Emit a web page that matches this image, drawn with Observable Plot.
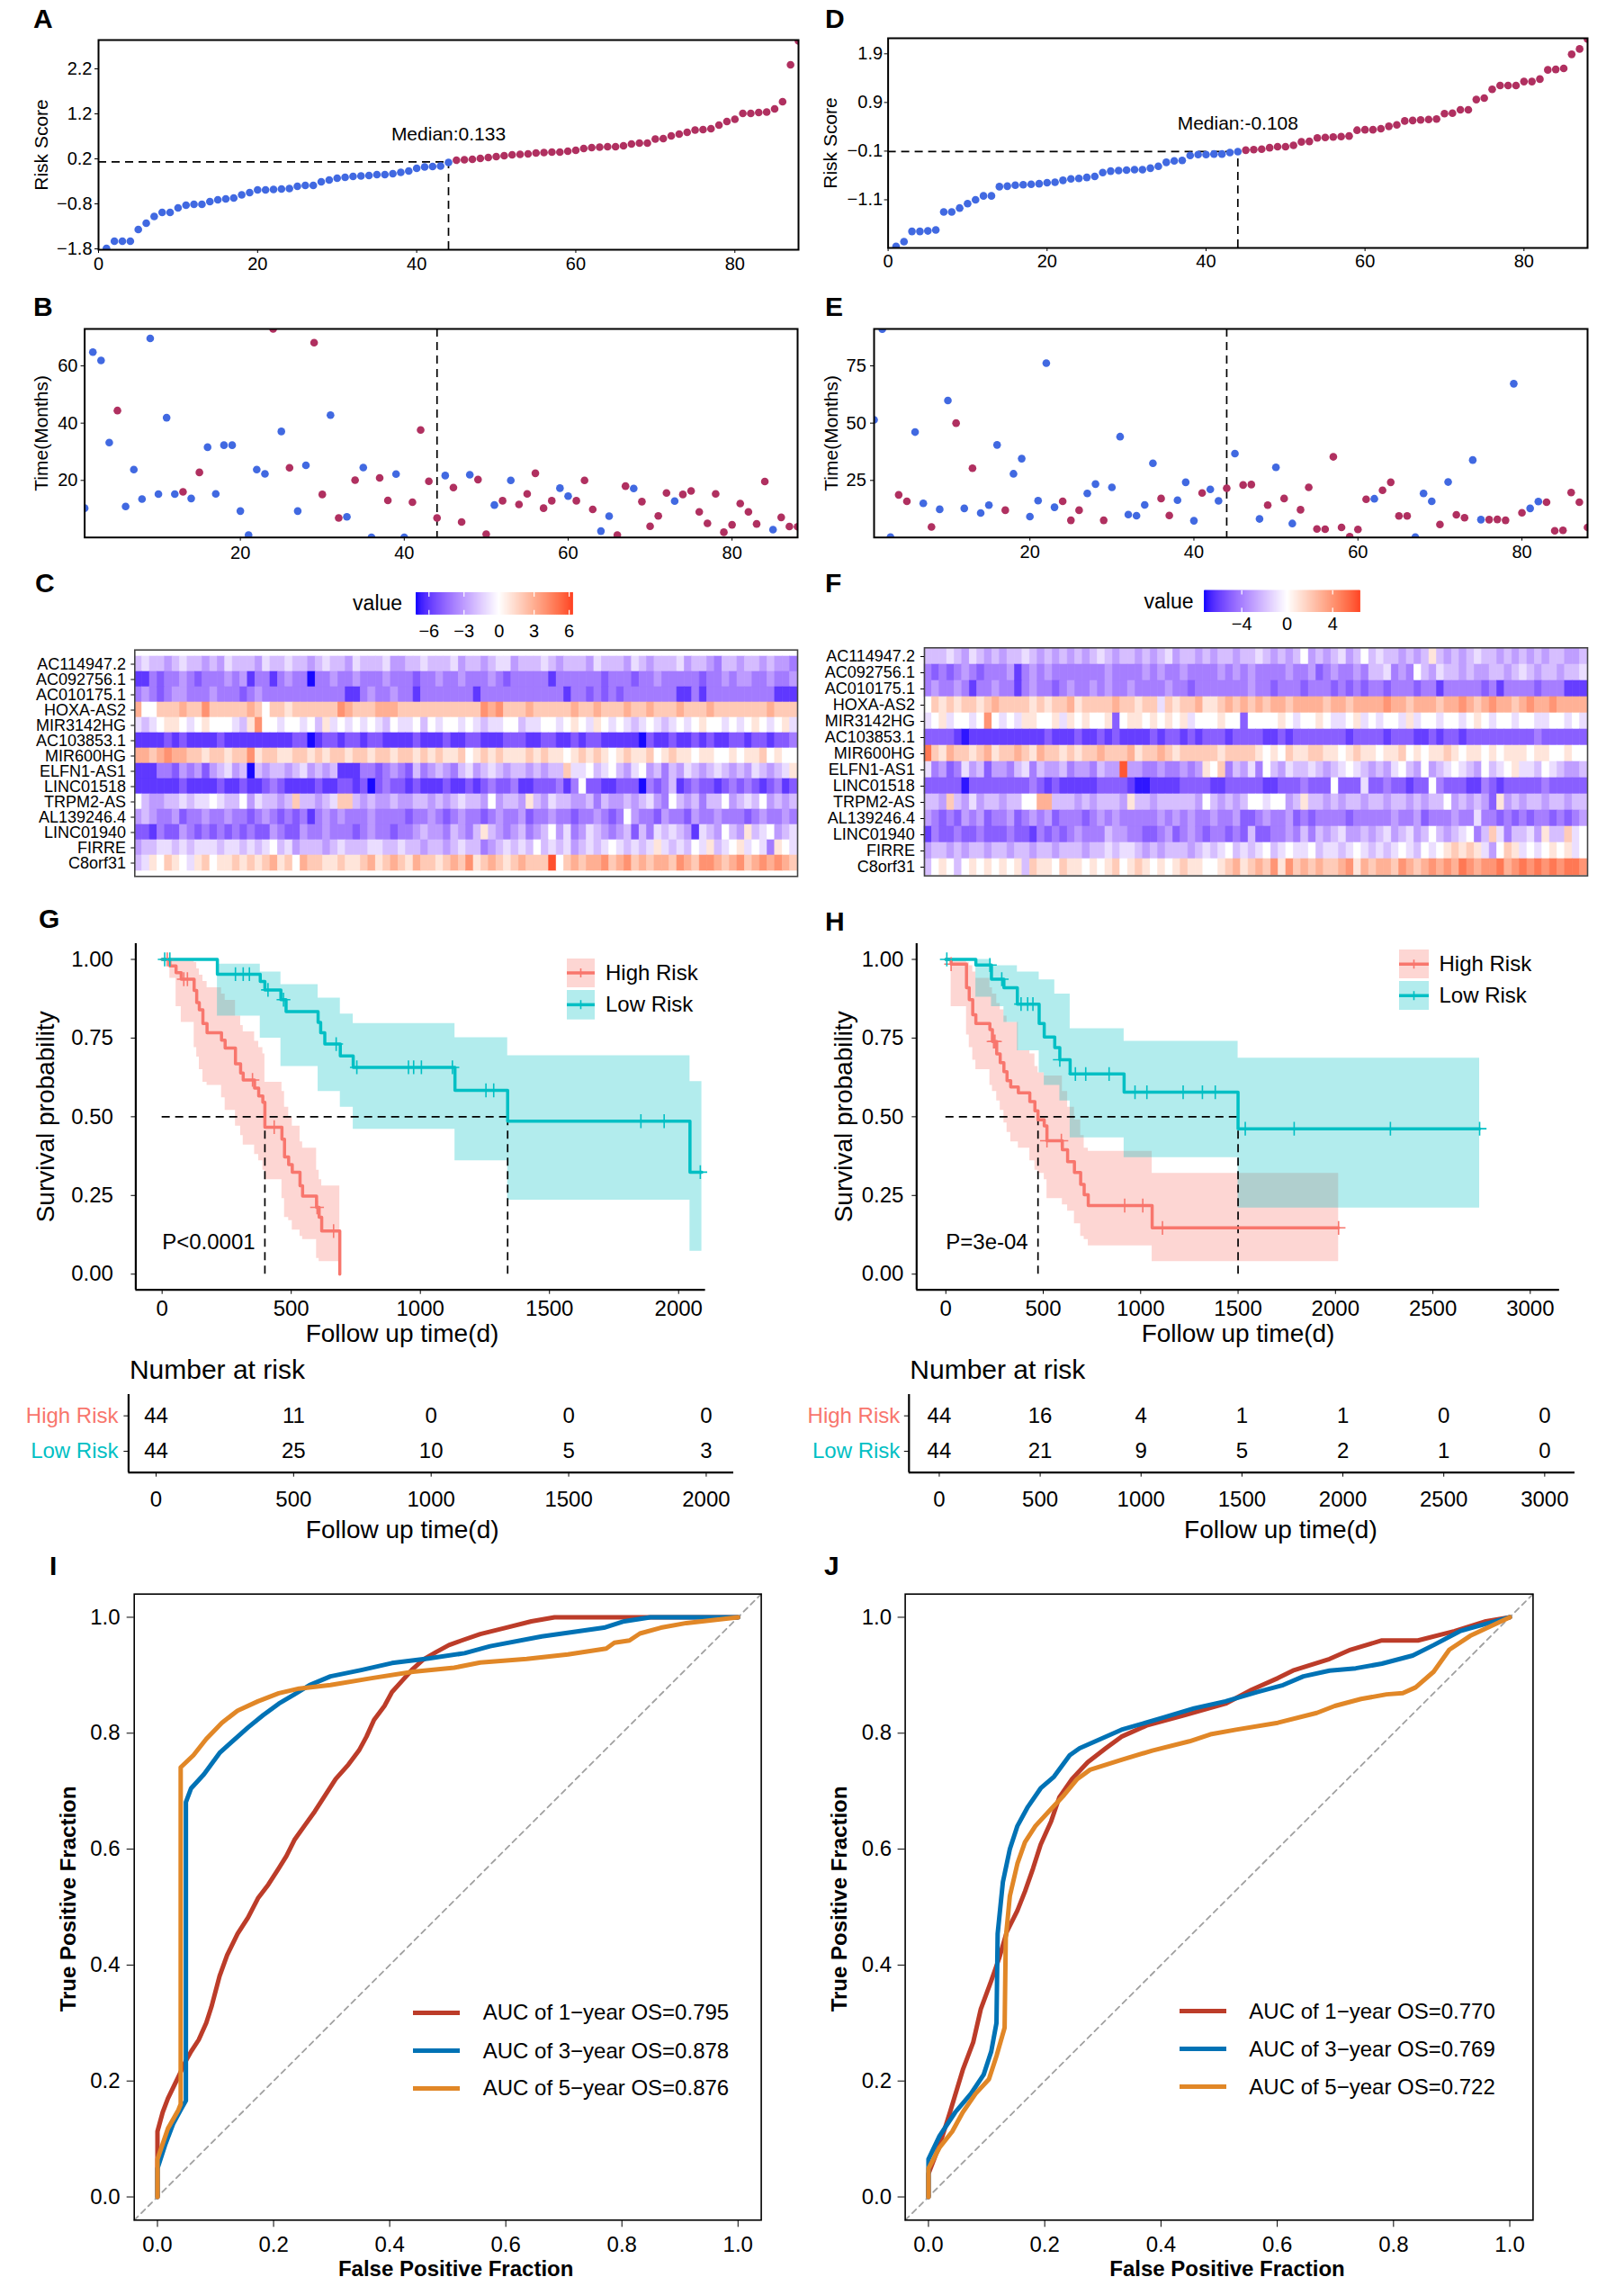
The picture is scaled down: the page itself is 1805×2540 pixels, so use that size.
<!DOCTYPE html>
<html><head><meta charset="utf-8">
<script src="https://cdn.jsdelivr.net/npm/d3@7"></script>
<script src="https://cdn.jsdelivr.net/npm/@observablehq/plot@0.6"></script>
<style>
body{margin:0;background:#fff;}
#page{position:relative;width:1805px;height:2540px;background:#fff;font-family:"Liberation Sans",Arial,Helvetica,sans-serif;overflow:hidden;color:#000;}
.letter{position:absolute;font-weight:bold;font-size:30px;line-height:30px;}
.lt{position:absolute;font-size:24px;line-height:24px;white-space:nowrap;}
</style></head><body><div id="page"></div>
<script>
// ---------------- DATA ----------------
// Panel A / D : sorted risk scores (88 patients each)
const riskA = [-1.79,-1.63,-1.63,-1.63,-1.37,-1.23,-1.08,-0.99,-0.99,-0.89,
 -0.83,-0.81,-0.81,-0.75,-0.71,-0.69,-0.67,-0.60,-0.55,-0.49,
 -0.49,-0.48,-0.47,-0.46,-0.41,-0.39,-0.39,-0.31,-0.27,-0.23,
 -0.21,-0.19,-0.18,-0.17,-0.15,-0.15,-0.13,-0.10,-0.07,-0.01,
 0.02,0.03,0.04,0.12,0.17,0.18,0.19,0.21,0.23,0.25,
 0.27,0.29,0.30,0.31,0.33,0.34,0.35,0.35,0.37,0.39,
 0.43,0.45,0.46,0.47,0.47,0.49,0.53,0.55,0.55,0.64,
 0.65,0.71,0.75,0.79,0.84,0.85,0.87,0.95,1.03,1.08,
 1.21,1.21,1.23,1.24,1.31,1.47,2.29,2.82];
const medianA = "0.133", medianValA = 0.133;
const riskTicksA = [-1.8,-0.8,0.2,1.2,2.2];
const riskD = [-2.06,-1.96,-1.75,-1.75,-1.74,-1.72,-1.35,-1.35,-1.27,-1.18,
 -1.10,-1.02,-1.02,-0.83,-0.82,-0.80,-0.79,-0.78,-0.77,-0.75,
 -0.74,-0.70,-0.67,-0.66,-0.64,-0.62,-0.54,-0.51,-0.50,-0.49,
 -0.48,-0.48,-0.45,-0.41,-0.33,-0.30,-0.29,-0.19,-0.17,-0.17,
 -0.16,-0.16,-0.13,-0.11,-0.08,-0.07,-0.06,-0.03,-0.01,-0.01,
 0.02,0.09,0.10,0.17,0.18,0.19,0.20,0.21,0.33,0.34,
 0.34,0.36,0.41,0.44,0.52,0.53,0.54,0.55,0.56,0.67,
 0.68,0.75,0.75,0.96,0.99,1.17,1.25,1.25,1.25,1.33,
 1.33,1.38,1.57,1.58,1.60,1.89,2.00,2.20];
const medianD = "-0.108", medianValD = -0.108;
const riskTicksD = [-1.1,-0.1,0.9,1.9];

// Panel B / E : survival time (months) and status (1 = dead, 0 = alive)
const timeB = [10.3,64.8,61.9,33.2,44.4,10.9,23.8,13.5,69.6,15.2,
 41.9,15.2,16.0,13.7,22.8,31.6,15.3,32.3,32.3,9.3,
 0.9,23.8,22.3,72.9,37.1,24.4,9.3,25.3,68.1,15.1,
 42.8,6.9,7.3,20.1,24.5,0.1,20.9,13.0,22.2,0.1,
 12.4,37.6,19.7,6.9,21.7,17.5,5.5,22.0,20.3,1.2,
 11.4,12.9,20.0,11.6,15.3,22.5,10.3,12.9,17.3,14.5,
 12.9,20.0,9.9,2.3,7.5,0.9,18.0,17.2,12.6,4.0,
 7.6,15.6,12.8,15.1,16.3,9.0,5.0,15.3,1.9,4.5,
 11.9,9.0,4.8,19.6,2.8,7.1,3.9,3.8];
const statusB = [0,0,0,0,1,0,0,0,0,0, 0,0,1,0,1,0,0,0,0,0, 0,0,0,1,0,1,0,0,1,1,
 0,1,0,1,0,0,1,1,0,0, 1,1,1,1,0,1,1,0,1,1, 0,1,0,1,1,1,1,1,0,0,
 1,1,1,0,0,1,1,0,1,1, 1,1,0,1,1,1,1,1,1,1, 1,1,1,1,0,1,1,1];
const timeE = [51.4,91.0,0.3,18.7,15.9,46.1,15.0,4.7,12.4,59.9,
 50.0,12.8,30.3,10.8,14.2,40.5,12.0,27.9,34.5,9.2,
 16.2,76.2,13.3,15.9,7.6,12.0,19.3,23.4,7.6,22.0,
 44.1,10.1,9.6,14.3,32.5,17.1,9.7,16.4,24.2,7.4,
 19.5,21.1,16.1,21.6,36.7,23.0,23.2,8.2,14.2,30.7,
 17.1,6.2,12.2,22.0,3.8,3.7,35.3,4.5,0.5,3.6,
 16.8,17.0,20.7,24.2,9.5,9.5,0.3,19.3,15.9,5.8,
 24.3,10.0,8.7,33.9,7.9,7.9,8.0,7.6,67.2,10.9,
 12.8,15.8,15.5,3.0,3.2,19.7,15.5,4.5];
const statusE = [0,0,0,1,1,0,0,1,0,0, 1,0,1,0,0,0,1,0,0,0, 0,0,0,1,1,1,0,0,1,0,
 0,0,0,0,0,1,1,0,0,0, 1,0,0,1,0,1,1,0,1,0, 1,0,1,1,1,1,1,1,1,1,
 1,0,1,1,1,1,0,0,0,1, 0,1,1,0,0,1,1,1,0,1, 0,0,1,1,1,1,1,1];

// Panel C / F : expression heatmaps, one character per patient (a=-7 ... h=0 ... o=+7)
const genes = ["AC114947.2","AC092756.1","AC010175.1","HOXA-AS2","MIR3142HG","AC103853.1","MIR600HG",
 "ELFN1-AS1","LINC01518","TRPM2-AS","AL139246.4","LINC01940","FIRRE","C8orf31"];
const heatC = [
 "fgffefgffe fegfffegff gffefgffeg fffgeeffgf ffgeffefgg efffgfefff egfffegfef ffgeffedff effefeed",
 "bbdcddedcd ddedebddbd eddaddedde dddedddcdd eddedddedc dddddbdddd ddcdddcdde dddddcdded eeddedde",
 "dedcdeeddd edddcdeddd ddddddddbb deddeddbdd dddddbdddd dddddddbdd cdcdcddddd ddbbdbdddd dddddbbb",
 "khhjjjkjjl jjjjjkjhjj ijjjjjjlkj jjkkkjjjjj jjjjjjlklj jjkjjjjjkj jkjjjkjjkj jjkjjjkjjj jjjjkjjj",
 "gfghiihghi hhhgfilhhg hhghfighgh ghgfhgghfh ghhghgfggh hfgghhghih gihghgfghg fghghihhgh ghihghig",
 "bbbbcbcbbb bcbbbbbbbb bccabccbcc bccbbbbcbb bcbbccbbbc ccbbccbbcb ccbbbbbacb bcbbcbcbbc cbccbccd",
 "kkjklkkjji jjijjlijji ijjijijjij jijjijjiji jiijhijiji iijijiihij ijihijiijh ijiihiihhi hiijhihh",
 "bbbddcedec efgefafeff efgefefbbb ddcdedcfde fedfgefgfe ffefeffjgg hfghfeghef dfegfefgfe fegfefgi",
 "bbbbbbcbbb bcbbcbbcdc bbbbcbbccb cacdccbcbb bcbbcbcdcc dbbcccdbdh ccbbcccadc dfbcdccbcd cdcbcdbc",
 "hfeeffgfgg hgffhegffe fjffefgjjf efeefeeffe fefgffehef feifegffee fdfeefefge dhfefdffhe fgfhefef",
 "efeddecdde ddeddcdedc dcdbdededd deddddcdde dcdeddcded decddeddcd dedcdheddc eddceddedd dcdedded",
 "ccbdccedcd cdcdcdcced cceddedddc deddcddefe edfedfifed efdefhegde gfedefcfdg fgfebgfehf eifghefg",
 "effggfgfgg gfggfgfghf gefffefgff fggffgffef fefgffdefg fgfhfgfgef gfghgfgfgi gfgfhgifgh ighgdihg",
 "fgihjihgij hiijijijki jhkjjiijii jkijkjikjj ijkjlijkji jkjjjnhjkj kkljkljkjk kjlkjllkjk ljklklkj"];
const heatF = [
 "fffgfegfef effgfefefe fefgfeffef efgeffefef feffgfefef hefefgefhf gffefefife fefgffefef efeffeef",
 "dcdcdedcdd debdededdd ddddedddde deddedddde dededddded decdeddedf fgdedhfegf fefeeffefg feffeffg",
 "deddedbdde ddbdeddcde ddededdedd ddeddcdddd dddeddcddd cdddcdcdcd dcdddcddbd ddddcdbddd dcdddbbb",
 "hjijijjijk jjjjijijjk ijjjjkjjij jgjijjkiij kjkjkjkkjk kkkjkkjkkk klkkjkkkjk klkjklkkjk lkklkkkk",
 "ghighhghlh ghgiihhigi hihhichiih ihihighhhi hhchhhhihg hhihgghigh ghhgighhgh hghihghhgh hgghhghg",
 "ccccbabbbb bbbbbbcbbb cbbcbcbbbb cbccbcbccc bccccbbcbc ccccccbccc cbcccbbcbc cbcccccccc cdcccccc",
 "mjikjjijki jjkjikjjij ijjkjjjkij jkjijjjjji jjjjihihji ijjiihijii hiijhihiij ihiihihiii hiihhihh",
 "gdecdgefce edfgdfeefd eedfeeneed deddedeihj dfegdhfegf fgfefghgfe feghfehefg hgfehfghig gfhgfeef",
 "cccccacccc ccccdcbcbb bbbccccbaa bbbbccccbb cccccbbccc dccchcccgc cdccbcchdc ccbbdcbccc ccdccccc",
 "ffejfegeff effhhkkfff efefffeiff efffffehfe fefhhghhef iffefeffef feffefeffh efefeciefe ffeffeff",
 "edcdcedecd decdedecdd dcdededddd dedededded deccdeddec dcddddcddd ddeddecddd eddgddcdcd cddcdcde",
 "bdccdccdcc cdccbdcdcd edddfeeddc cdecdedcdd cdcfccdded fdfefgeefe fgefgefhfe fghdfjgdff geiffjgh",
 "effefeffef feffeffeff feffgfggfe fefffefgfg hfgfghfghg ghfggfghgf gfghgfhghi jijigehjig hghihigh",
 "fhihfhihih ihifjiihji ihihijhiji hihijiihhi jkijkjlilj kjkjjklikj kkjlkjklkl kmlkllmklm lmlmlmml"];
const heatRangeC = [-7.1, 6.3], heatTicksC = [-6,-3,0,3,6];
const heatRangeF = [-7.3, 6.4], heatTicksF = [-4,0,4];

// Panel G / H : Kaplan-Meier steps (time in days, survival, lower CI, upper CI) and censor times
const gHighT  = [0,30,54,74,124,134,144,158,174,230,244,284,304,314,358,374,390,398,464,474,490,504,534,544,598,608,618,688];
const gHighS  = [1,.979,.958,.937,.901,.863,.840,.796,.767,.743,.718,.668,.639,.617,.591,.566,.546,.467,.429,.372,.348,.324,.281,.248,.212,.181,.137,0];
const gHighLo = [1,.94,.85,.80,.72,.69,.65,.61,.60,.56,.52,.47,.44,.41,.38,.36,.33,.30,.24,.18,.17,.14,.12,.11,.05,.04,.04,0];
const gHighHi = [1,1,1,1,.99,.97,.95,.93,.91,.89,.87,.82,.79,.77,.74,.72,.70,.61,.58,.53,.50,.47,.42,.40,.33,.30,.28,0];
const gHighCensor = [20,84,98,350,434,600,664];
const gLowT  = [0,214,380,398,460,480,604,614,630,690,740,1134,1338,2044,2090];
const gLowS  = [1,.953,.930,.903,.872,.834,.800,.767,.731,.693,.657,.584,.486,.324,.324];
const gLowLo = [1,.82,.75,.75,.66,.66,.58,.58,.58,.53,.46,.36,.235,.073,.073];
const gLowHi = [1,.985,.96,.96,.92,.92,.877,.877,.877,.826,.796,.751,.694,.612,.612];
const gLowCensor = [10,30,284,314,338,410,470,674,754,954,974,1004,1124,1254,1284,1854,1944,2084];
const gMedians = [398, 1338];
const gP = "P<0.0001";

const hHighT  = [0,27,106,120,138,154,226,239,261,279,298,314,333,372,431,457,473,505,519,598,625,660,692,710,731,1059,2016];
const hHighS  = [1,.985,.91,.872,.824,.796,.777,.739,.70,.672,.643,.615,.595,.576,.548,.519,.49,.471,.424,.395,.357,.323,.285,.252,.218,.147,.147];
const hHighLo = [1,.85,.76,.72,.68,.65,.60,.58,.55,.52,.48,.45,.42,.40,.36,.33,.32,.30,.24,.22,.20,.16,.12,.11,.09,.04,.04];
const hHighHi = [1,1,.99,.98,.96,.94,.91,.89,.86,.84,.82,.80,.80,.71,.70,.66,.64,.63,.63,.58,.53,.49,.44,.40,.39,.32,.32];
const hHighCensor = [27,245,252,519,593,918,1011,1112,2016];
const hLowT  = [0,154,234,298,367,479,505,559,585,638,915,1500,2740];
const hLowS  = [1,.982,.937,.91,.858,.796,.753,.72,.681,.636,.578,.462,.462];
const hLowLo = [1,.88,.85,.80,.71,.64,.60,.60,.55,.433,.37,.21,.21];
const hLowHi = [1,1,.98,.98,.96,.935,.935,.89,.89,.78,.74,.686,.686];
const hLowCensor = [5,226,287,386,420,447,585,665,718,838,971,1032,1218,1317,1383,1537,1788,2282,2740];
const hMedians = [473, 1500];
const hP = "P=3e-04";

// Number at risk tables
const gRiskTimes = [0,500,1000,1500,2000];
const gRiskHigh = [44,11,0,0,0];
const gRiskLow  = [44,25,10,5,3];
const hRiskTimes = [0,500,1000,1500,2000,2500,3000];
const hRiskHigh = [44,16,4,1,1,0,0];
const hRiskLow  = [44,21,9,5,2,1,0];
const riskGroups = ["High Risk","Low Risk"];

// Panel I / J : time-dependent ROC curves
const rocLabelsI = ["AUC of 1\u2212year OS=0.795","AUC of 3\u2212year OS=0.878","AUC of 5\u2212year OS=0.876"];
const i1F = [0,0,.009,.018,.036,.049,.058,.071,.084,.093,.107,.12,.138,.156,.173,.191,.209,.222,.236,.253,.271,.289,.307,.329,.347,.36,.373,.391,.404,.422,.44,.458,.48,.502,.524,.556,.6,.644,.684,1];
const i1T = [0,.113,.146,.17,.207,.235,.251,.271,.30,.328,.381,.417,.454,.482,.515,.539,.567,.588,.616,.64,.665,.693,.721,.746,.77,.794,.823,.847,.871,.891,.911,.927,.94,.952,.96,.971,.982,.993,1,1];
const i3F = [0,0,.013,.027,.04,.049,.049,.058,.08,.107,.129,.156,.182,.209,.236,.262,.298,.351,.404,.467,.529,.573,.662,.769,.804,.849,1];
const i3T = [0,.049,.089,.126,.15,.166,.681,.705,.729,.766,.786,.81,.831,.851,.867,.883,.898,.909,.921,.929,.938,.95,.967,.982,.993,1,1];
const i5F = [0,0,.018,.036,.04,.04,.062,.084,.111,.138,.173,.209,.244,.298,.369,.44,.511,.556,.636,.707,.773,.787,.813,.831,.867,.911,1];
const i5T = [0,.065,.118,.15,.16,.741,.762,.79,.818,.839,.855,.869,.877,.883,.895,.906,.913,.922,.928,.936,.946,.956,.96,.972,.982,.99,1];
const rocLabelsJ = ["AUC of 1\u2212year OS=0.770","AUC of 3\u2212year OS=0.769","AUC of 5\u2212year OS=0.722"];
const j1F = [0,0,.019,.037,.059,.077,.09,.108,.122,.135,.153,.166,.18,.193,.211,.225,.247,.274,.305,.332,.377,.44,.511,.556,.601,.627,.69,.726,.78,.842,.905,.959,1];
const j1T = [0,.04,.089,.146,.219,.267,.324,.373,.413,.458,.494,.527,.567,.608,.648,.689,.721,.75,.774,.794,.814,.831,.851,.875,.895,.908,.928,.944,.96,.96,.976,.993,1];
const j3F = [0,0,.019,.046,.073,.095,.108,.117,.119,.128,.14,.153,.171,.193,.216,.243,.26,.296,.332,.404,.457,.511,.565,.61,.645,.69,.735,.78,.833,.869,.914,1];
const j3T = [0,.065,.105,.146,.178,.211,.251,.30,.454,.543,.60,.64,.673,.705,.725,.762,.774,.79,.806,.827,.843,.855,.871,.883,.898,.908,.912,.92,.934,.952,.976,1];
const j5F = [0,0,.019,.041,.059,.081,.104,.117,.131,.133,.14,.153,.166,.184,.207,.233,.256,.278,.332,.385,.449,.485,.529,.601,.668,.699,.744,.788,.816,.838,.869,.896,.932,1];
const j5T = [0,.049,.085,.113,.146,.178,.203,.243,.292,.446,.519,.575,.612,.64,.665,.693,.721,.737,.754,.77,.786,.798,.806,.818,.835,.847,.859,.867,.869,.879,.906,.944,.968,1];

// ---------------- STYLE ----------------
const FONT = '"Liberation Sans", Arial, Helvetica, sans-serif';
const BLUE = "#4169E1", MAROON = "#B03060";
const KM_RED = "#F8766D", KM_CYAN = "#00BFC4";
const ROC_COLORS = ["#BC3C29", "#0072B5", "#E18727"];
const STYLE = {background: "transparent", overflow: "visible", fontFamily: FONT, color: "black"};

const page = document.getElementById("page");
function mk(ox, oy, w, h, fr) {
  return {width: w, height: h, marginLeft: fr[0] - ox, marginTop: fr[1] - oy, marginRight: ox + w - fr[2], marginBottom: oy + h - fr[3]};
}
function put(el, ox, oy) { el.style.position = "absolute"; el.style.left = ox + "px"; el.style.top = oy + "px"; page.appendChild(el); }
function div(cls, text, left, top, extra) {
  const d = document.createElement("div"); d.className = cls; d.textContent = text;
  d.style.left = left + "px"; d.style.top = top + "px"; if (extra) d.style.cssText += extra; page.appendChild(d); return d;
}
const dash = {stroke: "black", strokeWidth: 1.7, strokeDasharray: "9,6"};
// rotated axis title centred on the left edge of the frame
const yTitle = (t, dx, fontSize, extra) => Plot.text([t], {frameAnchor: "left", rotate: -90, dx, textAnchor: "middle", lineAnchor: "middle", fontSize, ...extra});
const xTitle = (t, dx, dy, fontSize, extra) => Plot.text([t], {frameAnchor: "bottom", dx, dy, textAnchor: "middle", lineAnchor: "middle", fontSize, ...extra});

// ---------------- PANELS A / D ----------------
function riskPanel(o) {
  const n = o.scores.length, cut = n / 2;
  const data = o.scores.map((v, i) => ({i: i + 1, v, high: i >= cut}));
  put(Plot.plot({
    ...mk(o.ox, o.oy, o.w, o.h, o.frame), style: STYLE,
    x: {domain: [0, n]}, y: {domain: o.yDomain}, color: {type: "identity"},
    marks: [
      Plot.ruleY([o.medianVal], {x1: 0, x2: cut, ...dash}),
      Plot.ruleX([cut], {y1: o.yDomain[0], y2: o.medianVal, ...dash}),
      Plot.dot(data, {x: "i", y: "v", r: 4.3, fill: d => d.high ? MAROON : BLUE, clip: true}),
      Plot.text(["Median:" + o.median], {x: cut, y: o.medianVal, dy: -31, fontSize: 21}),
      Plot.frame({stroke: "black", strokeWidth: 2}),
      Plot.axisX({ticks: [0, 20, 40, 60, 80], tickSize: 4, tickPadding: o.xPad, fontSize: 20, label: null}),
      Plot.axisY({ticks: o.yTicks, tickSize: 4, tickPadding: o.yPad, fontSize: 20, label: null, tickFormat: d3.format(".1f")}),
      yTitle("Risk Score", o.titleDx, 21)
    ]
  }), o.ox, o.oy);
}
riskPanel({ox: 0, oy: 0, w: 900, h: 310, frame: [109, 44, 887, 277], scores: riskA, median: medianA, medianVal: medianValA,
  yDomain: [-1.82, 2.84], yTicks: riskTicksA, titleDx: -63, xPad: 4, yPad: 3});
riskPanel({ox: 900, oy: 0, w: 905, h: 310, frame: [986.6, 42, 1764, 275], scores: riskD, median: medianD, medianVal: medianValD,
  yDomain: [-2.09, 2.22], yTicks: riskTicksD, titleDx: -63.6, xPad: 3.5, yPad: 2});

// ---------------- PANELS B / E ----------------
function timePanel(o) {
  const n = o.times.length;
  const data = o.times.map((t, i) => ({i: i + 1, t, dead: o.status[i] === 1}));
  put(Plot.plot({
    ...mk(o.ox, o.oy, o.w, o.h, o.frame), style: STYLE,
    x: {domain: [1, n]}, y: {domain: o.yDomain}, color: {type: "identity"},
    marks: [
      Plot.ruleX([n / 2], {...dash}),
      Plot.dot(data, {x: "i", y: "t", r: 4.3, fill: d => d.dead ? MAROON : BLUE, clip: true}),
      Plot.frame({stroke: "black", strokeWidth: 2}),
      Plot.axisX({ticks: [20, 40, 60, 80], tickSize: 4, tickPadding: o.xPad, fontSize: 20, label: null}),
      Plot.axisY({ticks: o.yTicks, tickSize: 4, tickPadding: o.yPad, fontSize: 20, label: null}),
      yTitle("Time(Months)", o.titleDx, 21)
    ]
  }), o.ox, o.oy);
}
timePanel({ox: 0, oy: 320, w: 900, h: 320, frame: [93.6, 365, 886, 596.7], times: timeB, status: statusB,
  yDomain: [0.07, 72.9], yTicks: [20, 40, 60], titleDx: -47.6, xPad: 6, yPad: 3.6});
timePanel({ox: 900, oy: 320, w: 905, h: 320, frame: [971, 365, 1764, 596.7], times: timeE, status: statusE,
  yDomain: [0.1, 91.1], yTicks: [25, 50, 75], titleDx: -47, xPad: 4.4, yPad: 4.7});

// ---------------- PANELS C / F ----------------
function colorScale(range) {
  const m = Math.max(Math.abs(range[0]), Math.abs(range[1]));
  return {type: "linear", domain: [-m, 0, m], range: ["#0000ff", "#ffffff", "#ff0000"], interpolate: "lab"};
}
function heatPanel(o) {
  const rows = o.rows.map(r => r.replace(/\s+/g, ""));
  const ncol = d3.max(rows, r => r.length);
  const data = [];
  genes.forEach((g, gi) => { for (let j = 0; j < rows[gi].length; j++) data.push({g, c: j + 1, v: rows[gi].charCodeAt(j) - 104}); });
  put(Plot.plot({
    ...mk(o.ox, o.oy, o.w, o.h, o.frame), style: STYLE,
    x: {type: "band", domain: d3.range(1, ncol + 1), padding: 0, axis: null},
    y: {type: "band", domain: genes, padding: 0},
    color: colorScale(o.range),
    marks: [
      Plot.cell(data, {x: "c", y: "g", fill: "v", stroke: "v", strokeWidth: 0.6, inset: 0}),
      Plot.frame({stroke: "#444", strokeWidth: 1.6}),
      Plot.axisY({tickSize: 4, tickPadding: o.yPad, fontSize: 18, label: null})
    ]
  }), o.ox, o.oy);
  // colour bar legend
  const N = 260, lo = o.range[0], hi = o.range[1], st = (hi - lo) / N;
  const ramp = d3.range(N).map(i => lo + (i + 0.5) * st);
  const L = o.legend, barW = L.frame[2] - L.frame[0], barH = L.frame[3] - L.frame[1];
  put(Plot.plot({
    ...mk(L.ox, L.oy, L.w, L.h, L.frame), style: STYLE,
    x: {domain: [lo, hi]}, y: {domain: [0, 1], axis: null},
    color: colorScale(o.range),
    marks: [
      Plot.ruleX(ramp, {x: d => d, stroke: d => d, strokeWidth: barW / N + 0.8}),
      Plot.ruleX(o.ticks, {stroke: "white", strokeWidth: 1.2, insetBottom: barH * 0.8}),
      Plot.ruleX(o.ticks, {stroke: "white", strokeWidth: 1.2, insetTop: barH * 0.8}),
      Plot.axisX({ticks: o.ticks, tickSize: 0, tickPadding: L.tickPad, fontSize: 20, label: null}),
      Plot.text(["value"], {frameAnchor: "left", dx: L.labelDx, textAnchor: "end", lineAnchor: "middle", fontSize: 23})
    ]
  }), L.ox, L.oy);
}
heatPanel({ox: 0, oy: 700, w: 900, h: 290, frame: [149.3, 721.7, 886, 973.3], rows: heatC, range: heatRangeC, ticks: heatTicksC, yPad: 5.8,
  legend: {ox: 300, oy: 640, w: 400, h: 80, frame: [462, 658, 636, 682.7], tickPad: 10.5, labelDx: -15.4}});
heatPanel({ox: 900, oy: 700, w: 905, h: 290, frame: [1027, 719.3, 1764, 972.7], rows: heatF, range: heatRangeF, ticks: heatTicksF, yPad: 6.6,
  legend: {ox: 1200, oy: 640, w: 400, h: 80, frame: [1338, 655.7, 1511, 680], tickPad: 5.5, labelDx: -12}});

// ---------------- PANELS G / H ----------------
function survAt(t, T, S) { let s = S[0]; for (let i = 0; i < T.length; i++) if (T[i] <= t) s = S[i]; return s; }
function kmPanel(o) {
  const rowsOf = g => g.t.map((t, i) => ({t, s: g.s[i], lo: g.lo[i], hi: g.hi[i]}));
  const cens = g => g.censor.map(t => ({t, s: survAt(t, g.t, g.s)}));
  const H = rowsOf(o.high), Lw = rowsOf(o.low);
  put(Plot.plot({
    ...mk(o.ox, o.oy, o.w, o.h, o.frame), style: STYLE,
    x: {domain: o.xDomain}, y: {domain: [-0.05, 1.05]}, color: {type: "identity"},
    marks: [
      Plot.areaY(H, {x: "t", y1: "lo", y2: "hi", curve: "step-after", fill: KM_RED, fillOpacity: 0.3}),
      Plot.areaY(Lw, {x: "t", y1: "lo", y2: "hi", curve: "step-after", fill: KM_CYAN, fillOpacity: 0.3}),
      Plot.ruleY([0.5], {x1: 0, x2: o.medians[1], ...dash}),
      Plot.ruleX(o.medians, {y1: 0, y2: 0.5, ...dash}),
      Plot.line(H, {x: "t", y: "s", curve: "step-after", stroke: KM_RED, strokeWidth: 3.5}),
      Plot.line(Lw, {x: "t", y: "s", curve: "step-after", stroke: KM_CYAN, strokeWidth: 3.5}),
      Plot.dot(cens(o.high), {x: "t", y: "s", symbol: "plus", stroke: KM_RED, r: 5, strokeWidth: 1.6}),
      Plot.dot(cens(o.low), {x: "t", y: "s", symbol: "plus", stroke: KM_CYAN, r: 5, strokeWidth: 1.6}),
      Plot.ruleX([o.xDomain[0]], {stroke: "black", strokeWidth: 2.2}),
      Plot.ruleY([-0.05], {stroke: "black", strokeWidth: 2.2}),
      Plot.axisX({ticks: o.xTicks, tickSize: 5, tickPadding: 6.4, fontSize: 24, label: null, tickFormat: d => String(d)}),
      Plot.axisY({ticks: [0, 0.25, 0.5, 0.75, 1], tickSize: 5, tickPadding: o.yPad, fontSize: 24, label: null, tickFormat: d3.format(".2f")}),
      Plot.text([o.p], {x: 0, y: 0.1, textAnchor: "start", fontSize: 24}),
      yTitle("Survival probability", o.yTitleDx, 28),
      xTitle("Follow up time(d)", o.xTitleDx, 49, 28)
    ]
  }), o.ox, o.oy);
}
kmPanel({ox: 0, oy: 1040, w: 900, h: 470, frame: [150.4, 1048, 783.6, 1432.7], xDomain: [-102, 2104], xTicks: [0, 500, 1000, 1500, 2000],
  high: {t: gHighT, s: gHighS, lo: gHighLo, hi: gHighHi, censor: gHighCensor},
  low: {t: gLowT, s: gLowS, lo: gLowLo, hi: gLowHi, censor: gLowCensor},
  medians: gMedians, p: gP, yPad: 20, yTitleDx: -99.9, xTitleDx: -20.5});
kmPanel({ox: 900, oy: 1040, w: 905, h: 470, frame: [1018.3, 1048, 1732.8, 1432.7], xDomain: [-150, 3150], xTicks: [0, 500, 1000, 1500, 2000, 2500, 3000],
  high: {t: hHighT, s: hHighS, lo: hHighLo, hi: hHighHi, censor: hHighCensor},
  low: {t: hLowT, s: hLowS, lo: hLowLo, hi: hLowHi, censor: hLowCensor},
  medians: hMedians, p: hP, yPad: 9.4, yTitleDx: -80.8, xTitleDx: 0});

function kmLegend(x, w, items, textX) {
  items.forEach(it => {
    const s = document.createElement("div");
    s.innerHTML = `<svg width="${w}" height="${it.h}" style="display:block"><rect width="${w}" height="${it.h}" fill="${it.color}" fill-opacity="0.3"/>` +
      `<line x1="0" x2="${w}" y1="${it.h / 2}" y2="${it.h / 2}" stroke="${it.color}" stroke-width="3.5"/>` +
      `<path d="M${w / 2 - 5},${it.h / 2}h10M${w / 2},${it.h / 2 - 5}v10" stroke="${it.color}" stroke-width="1.6"/></svg>`;
    put(s, x, it.top);
    div("lt", it.label, textX, it.top + it.h / 2 - 12);
  });
}
kmLegend(630, 31, [{label: riskGroups[0], color: KM_RED, top: 1065, h: 32}, {label: riskGroups[1], color: KM_CYAN, top: 1100, h: 32.7}], 673);
kmLegend(1555, 33, [{label: riskGroups[0], color: KM_RED, top: 1055, h: 32.3}, {label: riskGroups[1], color: KM_CYAN, top: 1090, h: 32.3}], 1599.5);

// ---------------- RISK TABLES ----------------
function riskTable(o) {
  const rows = [];
  o.times.forEach((t, j) => { rows.push({t, g: 0, n: o.high[j]}); rows.push({t, g: 1, n: o.low[j]}); });
  put(Plot.plot({
    ...mk(o.ox, o.oy, o.w, o.h, o.frame), style: STYLE,
    x: {domain: o.xDomain}, y: {domain: [1.6, -0.6]}, color: {type: "identity"},
    marks: [
      Plot.text(rows, {x: "t", y: "g", text: d => String(d.n), fontSize: 24}),
      Plot.ruleX([o.xDomain[0]], {stroke: "black", strokeWidth: 2.2}),
      Plot.ruleY([1.6], {stroke: "black", strokeWidth: 2.2}),
      Plot.axisX({ticks: o.times, tickSize: 5, tickPadding: 15.7, fontSize: 24, label: null, tickFormat: d => String(d)}),
      Plot.axisY({ticks: [0, 1], tickSize: 5, tickFormat: () => "", label: null}),
      Plot.text(riskGroups, {y: (d, i) => i, frameAnchor: "left", dx: o.labelDx, textAnchor: "end", lineAnchor: "middle", fontSize: 24,
        fill: (d, i) => i === 0 ? KM_RED : KM_CYAN}),
      Plot.text(["Number at risk"], {frameAnchor: "top-left", dx: 1, dy: -27.3, textAnchor: "start", lineAnchor: "middle", fontSize: 30}),
      xTitle("Follow up time(d)", o.titleDx, 64.3, 28)
    ]
  }), o.ox, o.oy);
}
riskTable({ox: 0, oy: 1500, w: 900, h: 220, frame: [142.4, 1549, 815, 1635.7], xDomain: [-100, 2100], times: gRiskTimes,
  high: gRiskHigh, low: gRiskLow, labelDx: -11.4, titleDx: -32});
riskTable({ox: 900, oy: 1500, w: 905, h: 220, frame: [1009.8, 1549, 1750, 1635.7], xDomain: [-150, 3150], times: hRiskTimes,
  high: hRiskHigh, low: hRiskLow, labelDx: -10, titleDx: 43});

// ---------------- PANELS I / J ----------------
function rocPanel(o) {
  const dom = [-0.04, 1.04];
  put(Plot.plot({
    ...mk(o.ox, o.oy, o.w, o.h, o.frame), style: STYLE,
    x: {domain: dom}, y: {domain: dom},
    marks: [
      Plot.line(dom, {x: d => d, y: d => d, stroke: "#A0A0A0", strokeWidth: 1.8, strokeDasharray: "6,5"}),
      ...o.curves.map((c, k) => Plot.line(c.f.map((f, i) => ({f, t: c.t[i]})),
        {x: "f", y: "t", stroke: ROC_COLORS[k], strokeWidth: 5, strokeLinejoin: "round"})),
      Plot.frame({stroke: "black", strokeWidth: 1.6}),
      Plot.axisX({ticks: [0, .2, .4, .6, .8, 1], tickSize: 8, tickPadding: 10, fontSize: 24, label: null, tickFormat: d3.format(".1f")}),
      Plot.axisY({ticks: [0, .2, .4, .6, .8, 1], tickSize: 8, tickPadding: o.yPad, fontSize: 24, label: null, tickFormat: d3.format(".1f")}),
      xTitle("False Positive Fraction", 9, 54.7, 24, {fontWeight: "bold"}),
      Plot.text(["True Positive Fraction"], {frameAnchor: "left", rotate: -90, dx: -72.4, dy: -9, textAnchor: "middle", lineAnchor: "middle", fontSize: 24, fontWeight: "bold"})
    ]
  }), o.ox, o.oy);
  o.labels.forEach((lab, k) => {
    const ln = document.createElement("div");
    ln.style.cssText = `width:52px;height:5px;background:${ROC_COLORS[k]}`;
    put(ln, o.legX, o.legY[k] - 2.5);
    div("lt", lab, o.legTextX, o.legY[k] - 12);
  });
}
rocPanel({ox: 0, oy: 1760, w: 900, h: 780, frame: [148.7, 1770.7, 845.6, 2466.3], yPad: 7.7,
  curves: [{f: i1F, t: i1T}, {f: i3F, t: i3T}, {f: i5F, t: i5T}], labels: rocLabelsI,
  legX: 459, legTextX: 536.7, legY: [2236.2, 2278.6, 2320.4]});
rocPanel({ox: 900, oy: 1760, w: 905, h: 780, frame: [1005.6, 1770.7, 1703.4, 2466.3], yPad: 7,
  curves: [{f: j1F, t: j1T}, {f: j3F, t: j3T}, {f: j5F, t: j5T}], labels: rocLabelsJ,
  legX: 1311, legTextX: 1388.3, legY: [2234.6, 2276.5, 2318.8]});

// ---------------- PANEL LETTERS ----------------
[["A", 37, 6], ["D", 917, 6], ["B", 37, 326], ["E", 917, 326], ["C", 39, 633], ["F", 917, 633],
 ["G", 43, 1006], ["H", 917, 1009], ["I", 55, 1725], ["J", 916, 1725]].forEach(([t, x, y]) => div("letter", t, x, y));
</script>
</body></html>
